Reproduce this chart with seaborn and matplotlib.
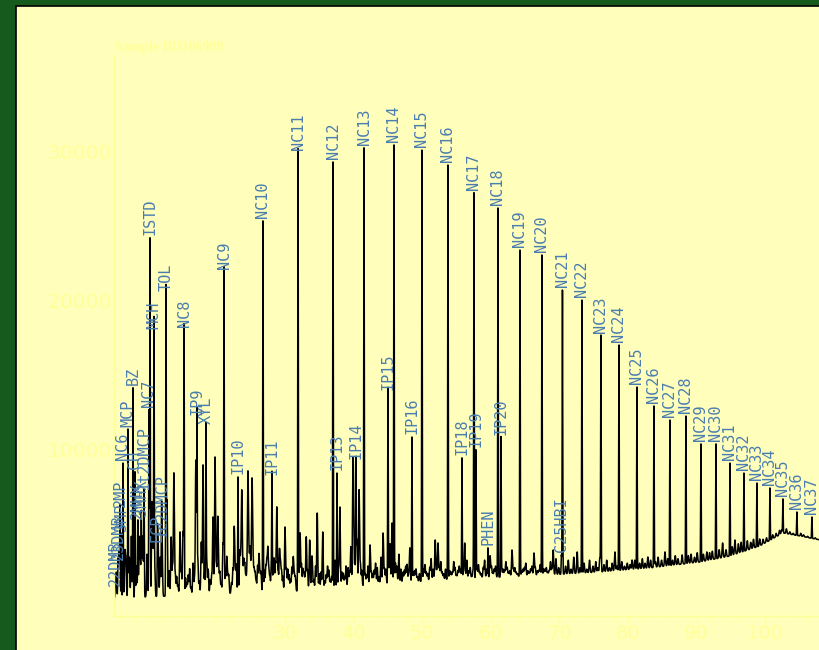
import numpy as np
import pandas as pd
import matplotlib
matplotlib.use('Agg')
import matplotlib.pyplot as plt
import seaborn as sns
from matplotlib.patches import Rectangle
from matplotlib.ticker import MultipleLocator, FixedLocator

# labelled peaks: name, retention time (min), apex signal
peak_names = ['22DMB', '23DMB', '2MP', '3MP', 'NC6', 'MCP', 'BZ', 'CH',
              '2MHX', '3MHX', '1t2DMCP', 'NC7', 'ISTD',
              'MCH', 'ECP', '1c2DMCP', 'TOL', 'NC8', 'IP9', 'XYL', 'NC9', 'IP10', 'NC10', 'IP11',
              'NC11', 'NC12', 'IP13', 'IP14', 'NC13', 'IP15', 'NC14', 'IP16', 'NC15', 'NC16',
              'IP18', 'NC17', 'IP19', 'PHEN', 'NC18', 'IP20', 'NC19', 'NC20', 'C25HBI', 'NC21',
              'NC22', 'NC23', 'NC24', 'NC25', 'NC26', 'NC27', 'NC28', 'NC29', 'NC30', 'NC31',
              'NC32', 'NC33', 'NC34', 'NC35', 'NC36', 'NC37']
peak_rt = [5.25, 5.65, 5.95, 6.15, 6.38, 7.11, 7.84, 8.13,
           8.55, 9.05, 9.45, 10.17, 10.32,
           10.90, 11.40, 12.00, 12.65, 15.28, 17.17, 18.48, 21.11, 23.15, 26.79, 28.10,
           31.90, 37.00, 37.58, 40.35, 41.52, 45.01, 45.89, 48.51, 49.97, 53.76,
           55.80, 57.55, 57.84, 59.59, 61.05, 61.49, 64.26, 67.46, 70.30, 70.45,
           73.29, 76.06, 78.69, 81.31, 83.79, 86.12, 88.45, 90.64, 92.83, 94.87,
           96.91, 98.80, 100.70, 102.59, 104.63, 106.82]
peak_int = [700, 2400, 6000, 4400, 9110, 11320, 14140, 8510,
            5200, 5400, 7100, 12660, 24190,
            17890, 3600, 3900, 20430, 18020, 12130, 11520, 21910, 8170, 25330, 8110,
            29880, 29280, 8440, 9180, 30220, 13800, 30420, 10850, 30080, 29080,
            9450, 27200, 9980, 3420, 26200, 10790, 23380, 23050, 2950, 20700,
            20030, 17620, 17020, 14200, 12930, 11990, 12260, 10390, 10390, 9110,
            8440, 7770, 7440, 6700, 5830, 5490]

# unlabelled peaks
minor_rt = [5.4, 5.8, 6.65, 6.8, 7.3, 7.6, 8.35, 8.75, 8.9, 9.2, 9.3, 9.9, 10.6, 10.75, 11.0,
            11.5, 11.8, 12.07, 12.8, 13.1,
            13.4, 13.8, 14.2, 14.4, 14.7, 15.13, 15.7, 15.9, 16.3, 16.6, 17.0, 17.5, 17.8,
            18.05, 18.8, 19.1, 19.5, 19.8, 20.2, 20.5, 20.7, 20.96, 21.5, 21.8, 22.2, 22.6,
            22.9, 23.4, 23.7, 24.0, 24.3, 24.6, 24.9, 25.2, 25.5, 25.8, 26.2, 26.5, 27.2,
            27.5, 27.8, 28.4, 28.8, 29.2, 29.5, 30.0, 30.4, 30.8, 31.2, 31.5, 32.2, 32.6,
            32.9, 33.1, 33.6, 33.9, 34.2, 34.7, 35.0, 35.5, 35.8, 36.2, 36.6, 37.3, 38.0,
            38.3, 38.7, 39.2, 39.6, 39.9, 40.0, 40.5, 40.8, 41.0, 41.9, 42.4, 42.8, 43.2,
            43.7, 44.0, 44.3, 44.7, 45.3, 45.6, 46.3, 46.6, 47.2, 47.6, 48.0, 48.2, 48.9,
            49.3, 50.4, 50.8, 51.3, 51.6, 51.9, 52.3, 52.7, 53.1, 54.2, 54.6, 55.0, 55.4,
            56.2, 56.5, 56.8, 57.2, 58.2, 58.6, 59.1, 59.9, 60.3, 60.7, 61.8, 62.2, 62.6,
            63.1, 63.5, 63.9, 64.7, 65.1, 65.6, 66.0, 66.3, 66.8, 67.2, 67.9, 68.3, 68.7,
            69.1, 69.5, 69.9, 70.9, 71.3, 71.7, 72.1, 72.6, 73.0, 73.6, 74.0, 74.4, 74.9,
            75.3, 75.6, 75.9, 76.5, 76.9, 77.3, 77.7, 78.1, 78.4, 79.1, 79.5, 79.9, 80.3,
            80.6, 81.0, 81.7, 82.1, 82.5, 82.9, 83.3, 84.0, 84.4, 84.9, 85.4, 85.8, 86.5,
            86.9, 87.3, 87.9, 88.8, 89.2, 89.7, 90.1, 91.0, 91.5, 91.9, 92.3, 93.3, 93.8,
            94.3, 95.2, 95.6, 96.1, 96.5, 97.4, 97.9, 98.3, 99.2, 99.7, 100.2, 101.1, 101.6,
            102.1, 102.4, 103.1, 103.6, 104.1, 105.2, 105.6, 106.2, 107.3, 107.7]
minor_int = [1800, 3200, 3000, 2500, 2800, 4200, 2200, 3900, 2600, 3000, 2500, 3000, 6160, 3280,
             2200, 3750, 2800, 4150, 6630, 1900,
             4150, 8440, 1500, 900, 4490, 4490, 1070, 1600, 800, 2400, 9310, 1200, 3800,
             8980, 2000, 1300, 5490, 9510, 5490, 1800, 1000, 3750, 2810, 1600, 1100, 4820,
             2300, 3200, 7170, 2600, 1500, 8440, 3400, 7970, 2000, 1200, 3000, 1800, 2200,
             3400, 1500, 2700, 6160, 3300, 1900, 4820, 2000, 1300, 2800, 1500, 4420, 2000,
             1400, 4150, 3950, 2500, 1300, 5760, 1700, 4490, 1200, 2200, 1300, 2600, 6160,
             1800, 1500, 2100, 3500, 7440, 5200, 4000, 7300, 2300, 1600, 3620, 1700, 2400,
             1500, 2800, 4420, 2000, 3700, 5090, 2200, 3000, 1800, 2200, 1600, 3420, 1900,
             1500, 2300, 1700, 2700, 2000, 3950, 3750, 2500, 1700, 1800, 2500, 1600, 2200,
             3750, 2600, 1900, 1500, 2300, 1700, 2600, 2900, 1800, 2200, 2000, 2500, 1800,
             3280, 2100, 1700, 2000, 2400, 1800, 2200, 3080, 1900, 2300, 2000, 1800, 2500,
             3280, 2700, 2100, 2200, 2600, 2000, 2800, 3150, 2100, 2400, 2000, 2600, 2200,
             2500, 2100, 2750, 2300, 2600, 2100, 2400, 3150, 2200, 2500, 2200, 2400, 2300,
             2610, 2600, 2400, 2700, 2400, 2810, 2600, 2500, 2800, 2600, 3150, 2700, 2600,
             2900, 2700, 2950, 2900, 3000, 2800, 3100, 3000, 3150, 3100, 3200, 3300, 3750,
             3300, 3500, 3950, 3700, 3800, 3900, 3800, 4000, 4020, 4000, 4100, 4300, 4400,
             4600, 4620, 4700, 4500, 4400, 4400, 4300, 4200, 4100, 4000]

# baseline grass between the bigger peaks
grass_rt = [13.6, 14.0, 14.9, 15.5, 16.1, 16.8, 17.3, 18.3, 18.6, 19.3, 20.0, 20.35, 21.3, 21.65,
            22.4, 22.75, 23.55, 23.85, 24.15, 24.45, 24.75, 25.05, 25.35, 25.65, 26.0, 26.35,
            27.0, 27.35, 27.65, 28.0, 28.25, 28.6, 29.0, 29.35, 29.7, 30.2, 30.6, 31.0, 31.35,
            32.0, 32.4, 32.75, 33.3, 34.0, 34.45, 35.25, 36.0, 36.4, 36.8, 37.8, 38.5, 38.9,
            39.4, 40.2, 41.2, 41.7, 42.1, 42.6, 43.0, 43.45, 44.5, 45.1, 46.1, 46.9, 47.4, 47.8,
            48.7, 49.1, 49.6, 50.2, 50.6, 51.1, 52.1, 52.5, 52.9, 53.4, 54.0, 54.4, 54.8, 55.2,
            55.6, 56.0, 57.0, 57.4, 58.0, 58.4, 58.9, 59.4, 60.1, 60.5, 61.6, 62.0, 62.4, 62.8,
            63.3, 63.7, 64.5, 64.9, 65.4, 65.8, 66.5, 67.0, 67.7, 68.1, 68.5, 68.9]
grass_int = [2200, 1700, 1900, 1400, 2000, 1300, 2600, 1800, 2500, 1600, 2200, 1500, 1900, 1400,
             2000, 1500, 2400, 1700, 2100, 1600, 2500, 1800, 2300, 1600, 2200, 1500,
             1900, 2300, 1700, 2100, 1600, 2400, 1800, 2200, 1500, 2000, 1600, 2100, 1500,
             1700, 2300, 1600, 1900, 1700, 2200, 1800, 1600, 1900, 1500, 2000, 1700, 2200,
             1800, 2400, 1900, 1700, 2200, 1800, 1900, 2100, 2000, 2200, 2400, 2000, 1900, 2300,
             1800, 2000, 1700, 2000, 1800, 2100, 1900, 2100, 1800, 2000, 1900, 1800, 2100, 1900,
             2000, 1800, 2100, 1900, 2000, 1800, 2100, 2000, 2200, 2000, 2000, 1900, 2100, 1900,
             2000, 1800, 1900, 2100, 1900, 2000, 2100, 1900, 2000, 2100, 1900, 2000]

# baseline drift
base_rt = [5.0, 17.6, 32.2, 46.8, 54.1, 61.3, 68.6, 75.9, 83.2, 90.5, 94.9, 99.2, 102.6, 105.1, 108.0]
base_int = [60, 270, 540, 1070, 1340, 1470, 1610, 1810, 2080, 2480, 2880, 3550, 4420, 4220, 3950]

bg = '#FFFFBB'
faint = '#FFFF99'
green = '#165A1E'
label_col = '#4A7DB0'

all_rt = np.array(peak_rt + minor_rt + grass_rt)
all_int = np.array(peak_int + minor_int + grass_int, dtype=float)
all_sig = np.array([0.04] * len(peak_rt) + [0.07] * len(minor_rt) + [0.06] * len(grass_rt))

t = np.union1d(np.round(np.arange(5.0, 108.001, 0.01), 3), all_rt)
signal = np.interp(t, base_rt, base_int)
for rt, h, s in zip(all_rt, all_int, all_sig):
    b = np.interp(rt, base_rt, base_int)
    signal = signal + max(h - b, 0) * np.exp(-0.5 * ((t - rt) / s) ** 2)

df = pd.DataFrame({'rt': t, 'signal': signal})

fig = plt.figure(figsize=(8.2, 6.5), dpi=100, facecolor=green)
fig.patches.append(Rectangle((16.5 / 820, -0.02), 1.0, 1.02 - 5.5 / 650, transform=fig.transFigure,
                             facecolor=bg, edgecolor='black', lw=1.2, zorder=-5))
ax = fig.add_axes([114 / 820, 34 / 650, 1 - 114 / 820, 561 / 650])
ax.set_zorder(2)
ax.set_facecolor(bg)

sns.lineplot(data=df, x='rt', y='signal', color='black', lw=1.1, estimator=None, sort=False, ax=ax)

for name, rt, h in zip(peak_names, peak_rt, peak_int):
    ax.annotate(name, (rt, h), xytext=(0, 2), textcoords='offset points', rotation=90,
                ha='center', va='bottom', family='DejaVu Sans Mono', fontsize=11, color=label_col)

ax.set_xlim(5.07, 108.0)
ax.set_ylim(-1140, 36450)
ax.set_xlabel('')
ax.set_ylabel('')
ax.xaxis.set_major_locator(FixedLocator([30, 40, 50, 60, 70, 80, 90, 100]))
ax.xaxis.set_minor_locator(MultipleLocator(2))
ax.yaxis.set_major_locator(FixedLocator([10000, 20000, 30000]))
ax.tick_params(axis='x', which='major', length=4, width=1, color=faint, labelcolor=faint,
               labelsize=14, pad=2)
ax.tick_params(axis='x', which='minor', length=2.5, width=1, color=faint)
ax.tick_params(axis='y', length=0, labelcolor=faint, labelsize=14.5, pad=1.5)
for side in ['top', 'right']:
    ax.spines[side].set_visible(False)
for side in ['left', 'bottom']:
    ax.spines[side].set_color(faint)
    ax.spines[side].set_linewidth(1.0)

fig.text(115 / 820, 1 - 51 / 650, 'Sample BD106999', family='Liberation Serif', fontweight='bold',
         fontsize=10, color=faint, va='baseline', ha='left', zorder=3)

fig.savefig('out.png', dpi=100, facecolor=fig.get_facecolor())
